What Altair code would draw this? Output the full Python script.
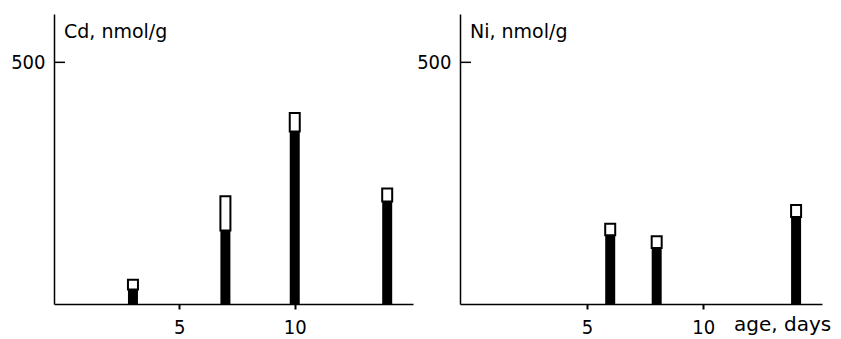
import altair as alt
import pandas as pd

# Cd panel
cd_days = [3, 7, 10, 14]
cd_black = [30, 152, 357, 212]
cd_total = [50, 223, 395, 239]
# Ni panel
ni_days = [6, 8, 14]
ni_black = [142, 116, 180]
ni_total = [166, 140, 205]

x_ticks = [5, 10]
y_ticks = [500]
cd_label = ["Cd, nmol/g"]
ni_label = ["Ni, nmol/g"]
x_title = ["age, days"]

NUMFONT = "DejaVu Sans Condensed, DejaVu Sans"
TXTFONT = "DejaVu Sans"


def panel(days, black, total, label, domain, width, extra=None):
    df = pd.DataFrame({"day": days, "black": black, "total": total,
                       "zero": [0] * len(days)})
    xs = alt.Scale(domain=domain, nice=False, zero=False)
    ys = alt.Scale(domain=[0, 600], nice=False)
    x = alt.X("day:Q", scale=xs, axis=alt.Axis(
        values=x_ticks, title=None, grid=False, tickSize=5, tickWidth=2,
        tickColor="black", domainColor="black", domainWidth=1.5,
        labelFont=NUMFONT, labelFontSize=20, labelColor="black",
        labelPadding=24, labelBaseline="alphabetic", labelFlush=False))
    y = alt.Y("zero:Q", scale=ys, axis=alt.Axis(
        values=y_ticks, title=None, grid=False, tickSize=0,
        domainColor="black", domainWidth=1.5,
        labelFont=NUMFONT, labelFontSize=20, labelColor="black",
        labelPadding=9, minExtent=44, maxExtent=44))
    base = alt.Chart(df)
    blk = base.mark_bar(color="black", size=10).encode(x=x, y=y, y2="black:Q")
    wht = base.mark_bar(fill="white", stroke="black", strokeWidth=2, size=10).encode(
        x="day:Q", y="black:Q", y2="total:Q")
    tick = alt.Chart(pd.DataFrame({"v": y_ticks})).mark_rule(
        color="black", strokeWidth=1.5).encode(
        y=alt.Y("v:Q"), x=alt.value(0), x2=alt.value(11))
    ttl = alt.Chart(pd.DataFrame({"t": label})).mark_text(
        align="left", baseline="alphabetic", font=TXTFONT, fontSize=19,
        color="black").encode(text="t:N", x=alt.value(10), y=alt.value(24))
    layers = [blk, wht, tick, ttl]
    if extra is not None:
        layers.append(extra)
    return alt.layer(*layers).properties(width=width, height=290)


age = alt.Chart(pd.DataFrame({"t": x_title})).mark_text(
    align="left", baseline="alphabetic", font=TXTFONT, fontSize=20,
    color="black").encode(text="t:N", x=alt.value(274), y=alt.value(317))

left = panel(cd_days, cd_black, cd_total, cd_label, [-0.2, 14.9], 359)
right = panel(ni_days, ni_black, ni_total, ni_label, [-0.25, 14.9], 362, age)

chart = alt.hconcat(left, right, spacing=1).properties(
    padding={"left": 1, "top": 5, "right": 0, "bottom": 0}
).configure(background="white").configure_view(stroke="transparent")

chart.save("out.html", embed_options={"renderer": "svg", "actions": False})
